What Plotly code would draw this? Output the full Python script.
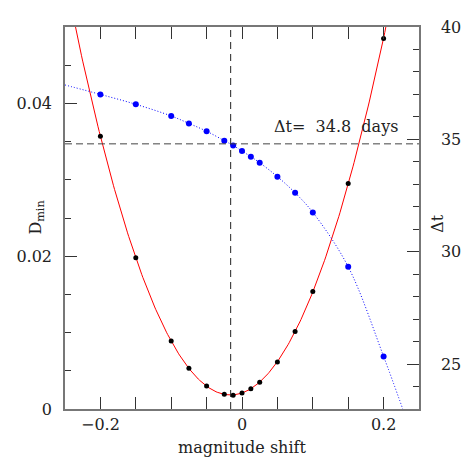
import numpy as np
import plotly.graph_objects as go

shift = [-0.2, -0.15, -0.1, -0.075, -0.05, -0.025, -0.0125, 0.0,
         0.0125, 0.025, 0.05, 0.075, 0.1, 0.15, 0.2]
dmin = [0.0357, 0.0198, 0.00889, 0.00532, 0.0030, 0.00192, 0.00179, 0.00209,
        0.00265, 0.00349, 0.00614, 0.01015, 0.01538, 0.0295, 0.0485]
delay = [37.0, 36.56, 36.04, 35.71, 35.36, 34.94, 34.73, 34.48,
         34.23, 33.96, 33.34, 32.62, 31.75, 29.33, 25.34]

# where the dotted delay curve leaves the frame
edge_shift = [-0.25, 0.227]
edge_delay = [37.42, 23.0]

best_shift = -0.016
best_delay = 34.8

# parabola fit for D_min
xs = np.linspace(-0.25, 0.25, 301)
red_fit = np.polyval(np.polyfit(shift, dmin, 2), xs)

curve_x = [edge_shift[0]] + shift + [edge_shift[1]]
curve_y = [edge_delay[0]] + delay + [edge_delay[1]]

fig = go.Figure()
fig.add_trace(go.Scatter(x=xs, y=red_fit, mode='lines',
                         line=dict(color='#ff0000', width=1)))
fig.add_trace(go.Scatter(x=shift, y=dmin, mode='markers',
                         marker=dict(color='black', size=5)))
fig.add_trace(go.Scatter(x=curve_x, y=curve_y, mode='lines', yaxis='y2',
                         line=dict(color='#0000ff', width=1, dash='1px,2px',
                                   shape='spline', smoothing=1)))
fig.add_trace(go.Scatter(x=shift, y=delay, mode='markers', yaxis='y2',
                         marker=dict(color='#0000ff', size=6)))

# dashed guide lines
fig.add_trace(go.Scatter(x=[best_shift, best_shift], y=[0, 0.05], mode='lines',
                         line=dict(color='#222', width=1, dash='7px,5px')))
fig.add_trace(go.Scatter(x=[-0.25, 0.25], y=[best_delay, best_delay], mode='lines',
                         yaxis='y2', line=dict(color='#444', width=1, dash='7px,4px')))

axis_line = dict(showline=True, linecolor='#777', linewidth=1.5, showgrid=False,
                 zeroline=False, ticks='inside', ticklen=12, tickcolor='#333',
                 tickwidth=1, automargin=False)

fig.update_layout(
    width=463, height=458,
    margin=dict(l=65, r=44, t=27, b=49),
    plot_bgcolor='white', paper_bgcolor='white',
    showlegend=False,
    font=dict(family='DejaVu Serif', size=16, color='#222'),
    xaxis=dict(range=[-0.25, 0.25], dtick=0.2, tick0=0, mirror='allticks',
               minor=dict(dtick=0.05, ticklen=6, ticks='inside', tickcolor='#333'),
               ticklabelstandoff=0, **axis_line),
    yaxis=dict(range=[0, 0.05], dtick=0.02, tick0=0, mirror=True,
               minor=dict(dtick=0.005, ticklen=6, ticks='inside', tickcolor='#333'),
               ticklabelstandoff=8, **axis_line),
    yaxis2=dict(range=[23, 40], dtick=5, tick0=0, overlaying='y', side='right',
                minor=dict(dtick=1, ticklen=6, ticks='inside', tickcolor='#333'),
                ticklabelstandoff=17, **axis_line),
)

fig.add_annotation(text=f'Δt=&nbsp;&nbsp;{best_delay}&nbsp;&nbsp;days', x=0.2236, y=35.55,
                   xref='x', yref='y2', xanchor='right', yanchor='middle', showarrow=False)
fig.add_annotation(text='magnitude shift', x=0.5, y=-0.0995, xref='paper', yref='paper',
                   xanchor='center', yanchor='middle', showarrow=False)
fig.add_annotation(text='D<sub>min</sub>', x=-0.083, y=0.5, xref='paper', yref='paper',
                   textangle=-90, xanchor='center', yanchor='middle', showarrow=False)
fig.add_annotation(text='Δt', x=1.052, y=0.486, xref='paper', yref='paper',
                   textangle=-90, xanchor='center', yanchor='middle', showarrow=False)

fig.write_html("out.html", config={'displayModeBar': False},
               post_script="document.body.style.margin='0';")
